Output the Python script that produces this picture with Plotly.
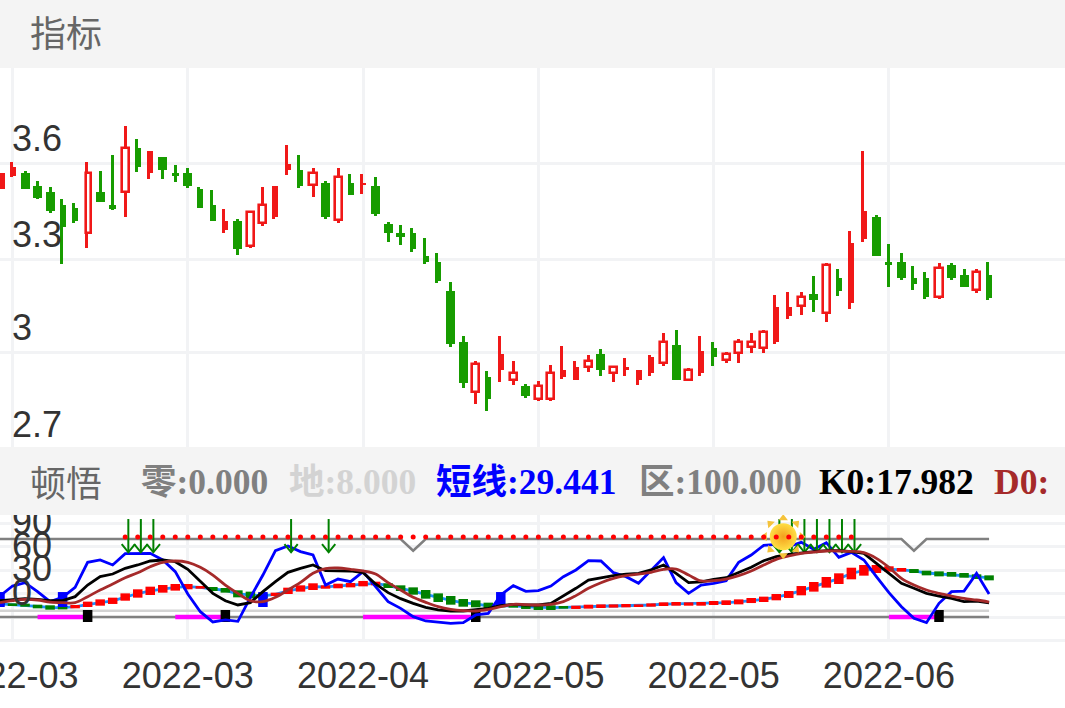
import math
import plotly.graph_objects as go

W, H = 1065, 708

# price panel, one candle per trading day
opens = [3.517,3.560,3.567,3.527,3.507,3.467,3.456,3.377,3.507,3.467,
         3.509,3.648,3.569,3.619,3.568,3.568,3.517,3.467,3.387,3.416,
         3.337,3.409,3.428,3.578,3.578,3.529,3.537,3.419,3.537,3.529,
         3.527,3.406,3.377,3.377,3.305,3.286,3.194,3.032,2.873,2.922,
         2.943,2.911,2.892,2.852,2.852,2.922,2.912,2.953,2.993,2.933,
         2.943,2.912,2.933,2.964,3.022,2.912,2.933,3.012,2.975,2.996,
         3.015,3.014,3.033,3.114,3.145,3.183,3.125,3.235,3.155,3.358,
         3.428,3.285,3.286,3.235,3.235,3.176,3.275,3.244,3.196,3.244]
closes = [3.567,3.586,3.517,3.488,3.448,3.398,3.416,3.567,3.477,3.454,
          3.647,3.588,3.638,3.578,3.558,3.527,3.457,3.417,3.416,3.327,
          3.445,3.466,3.527,3.597,3.527,3.567,3.428,3.557,3.498,3.537,
          3.438,3.377,3.366,3.326,3.286,3.225,3.024,2.903,2.962,2.852,
          2.993,2.932,2.861,2.892,2.932,2.943,2.952,2.972,2.943,2.952,
          2.952,2.943,2.983,3.032,2.912,2.942,3.002,2.983,2.993,3.032,
          3.032,3.063,3.144,3.143,3.174,3.165,3.275,3.195,3.346,3.448,
          3.306,3.276,3.235,3.216,3.175,3.266,3.235,3.205,3.255,3.171]
highs = [3.567,3.604,3.575,3.544,3.523,3.485,3.472,3.604,3.575,3.625,
         3.717,3.675,3.638,3.619,3.594,3.584,3.524,3.514,3.454,3.423,
         3.447,3.524,3.527,3.656,3.625,3.584,3.544,3.584,3.565,3.565,
         3.555,3.413,3.403,3.394,3.363,3.313,3.222,3.051,2.970,2.939,
         3.051,2.970,2.898,2.909,2.959,3.020,2.970,2.990,3.010,2.952,
         2.980,2.943,2.990,3.060,3.070,2.949,3.051,3.031,2.999,3.040,
         3.059,3.069,3.181,3.190,3.190,3.241,3.283,3.263,3.384,3.637,
         3.434,3.343,3.313,3.273,3.253,3.283,3.283,3.263,3.263,3.285]
lows = [3.517,3.557,3.517,3.486,3.440,3.279,3.410,3.329,3.477,3.451,
        3.430,3.571,3.550,3.550,3.541,3.521,3.457,3.417,3.379,3.308,
        3.329,3.400,3.421,3.561,3.521,3.491,3.421,3.410,3.498,3.501,
        3.431,3.349,3.339,3.318,3.278,3.218,3.016,2.886,2.835,2.814,
        2.905,2.895,2.854,2.844,2.844,2.914,2.912,2.936,2.925,2.905,
        2.925,2.895,2.925,2.956,2.912,2.912,2.925,2.956,2.966,2.966,
        2.996,2.996,3.025,3.106,3.117,3.127,3.096,3.178,3.137,3.350,
        3.306,3.207,3.229,3.197,3.167,3.167,3.229,3.205,3.187,3.165]
hollow_days = [7,10,20,21,25,27,38,41,43,44,47,49,53,55,58,59,60,61,64,66,75,78]
thin_days = [1,5,6,7,11,12,16,17,18,22,23,24,28,29,33,34,35,39,40,45,46,50,51,52,
             56,57,62,63,67,68,69,73,74,79]
small_days = [9,14,71]

date_days = [1,15,29,43,57,71]
date_labels = ["2022-03","2022-03","2022-04","2022-05","2022-05","2022-06"]
price_ticks = [3.6,3.295,3.0,2.69]
price_labels = ["3.6","3.3","3","2.7"]

# indicator panel
short_line = [26.9,39.7,44.0,32.5,19.7,25.2,38.0,70.1,73.1,66.7,
              81.2,81.2,81.6,73.1,58.1,29.5,6.8,-6.4,-3.8,-5.6,
              25.2,53.8,85.0,91.0,83.8,79.5,41.0,48.7,45.3,58.1,
              38.9,19.7,11.1,0.4,-5.1,-6.8,-8.1,-7.3,2.6,4.7,
              28.2,40.2,32.9,33.8,39.7,51.7,60.3,72.2,71.8,56.8,
              51.7,43.2,60.3,76.1,44.0,30.3,41.0,43.2,46.6,70.1,
              79.5,91.9,93.2,90.2,95.7,86.8,95.3,76.5,82.9,73.1,
              51.7,31.2,13.2,-1.7,-7.3,17.5,32.5,33.3,56.0,29.44]
k0_line = [20.9,22.6,23.5,22.6,20.9,20.9,26.1,41.0,51.7,55.1,
           62.4,66.7,71.8,73.1,70.9,61.1,45.3,30.3,20.9,15.4,
           18.4,32.5,45.3,57.3,62.4,66.7,59.4,59.0,59.0,56.8,
           42.3,31.2,23.5,17.5,12.4,9.0,7.7,7.7,9.0,11.1,
           14.5,16.2,15.4,15.4,17.5,26.9,36.8,47.4,50.4,53.0,
           55.1,56.0,60.3,66.7,56.0,44.0,44.9,48.3,50.4,56.8,
           63.7,72.2,77.4,80.3,82.5,83.8,85.0,85.0,83.8,81.6,
           68.8,56.0,43.2,36.8,30.3,26.9,23.9,19.7,20.5,17.98]
d0_line = [18.4,20.9,22.6,21.8,19.2,18.4,18.4,26.1,34.6,42.3,
           50.4,56.8,64.5,70.1,71.8,70.1,63.7,53.8,41.0,30.3,
           20.9,19.7,25.2,34.6,44.4,56.0,62.0,62.8,61.1,59.0,
           55.1,44.0,34.6,25.2,18.8,13.2,9.8,8.1,7.7,9.8,
           13.2,16.2,15.8,15.4,16.2,19.7,27.4,36.8,44.0,49.6,
           53.0,55.1,57.3,61.1,61.5,53.8,46.2,46.6,48.7,53.0,
           59.0,66.7,73.9,78.2,81.6,83.3,84.6,84.6,84.2,82.5,
           75.2,63.7,49.6,41.0,34.6,30.3,26.9,23.9,21.8,19.2]
slow_line = [16.7,15.8,15.2,13.5,12.2,12.0,13.2,16.2,18.5,20.7,
             25.6,30.1,33.5,36.1,38.0,38.9,38.0,35.9,34.2,29.7,
             28.2,27.1,29.0,33.5,36.5,38.9,38.5,39.7,40.8,42.7,
             43.0,40.2,37.0,33.3,29.0,24.8,21.4,18.2,16.9,14.1,
             14.5,14.5,13.0,12.2,12.0,12.4,12.4,13.2,13.8,14.1,
             14.5,14.5,15.4,16.5,16.9,16.7,16.9,18.0,18.4,19.4,
             21.1,22.6,25.5,28.9,33.8,38.7,44.5,49.2,55.8,59.9,
             61.5,61.5,60.5,59.0,56.4,55.3,54.7,53.4,51.7,50.2]
slow_top = [18.4,17.5,17.1,15.8,15.0,14.1,15.4,19.7,22.6,24.8,
            30.3,35.5,38.9,41.0,42.3,42.3,39.7,38.5,37.2,34.2,
            32.5,30.3,31.2,37.6,40.6,43.2,40.6,42.7,43.6,46.2,
            45.3,43.2,40.6,38.0,34.6,30.3,26.9,23.1,21.4,18.4,
            16.7,17.1,15.8,15.4,15.0,14.1,14.5,15.8,16.2,16.2,
            16.7,16.2,17.5,18.8,19.2,18.8,19.2,20.5,21.4,22.6,
            24.4,26.1,29.5,33.3,39.7,44.9,51.3,56.0,63.2,66.7,
            66.7,65.0,62.8,61.5,59.4,58.5,57.7,56.4,54.7,53.4]
slow_bot = [15.0,14.1,13.2,11.1,9.4,9.8,11.1,12.8,14.5,16.7,
            20.9,24.8,28.2,31.2,33.8,35.5,36.3,33.3,31.2,25.2,
            23.9,23.9,26.9,29.5,32.5,34.6,36.3,36.8,38.0,39.3,
            40.6,37.2,33.3,28.6,23.5,19.2,15.8,13.2,12.4,9.8,
            12.4,12.0,10.3,9.0,9.0,10.7,10.3,10.7,11.5,12.0,
            12.4,12.8,13.2,14.1,14.5,14.5,14.5,15.4,15.4,16.2,
            17.9,19.2,21.4,24.4,27.8,32.5,37.6,42.3,48.3,53.0,
            56.4,58.1,58.1,56.4,53.4,52.1,51.7,50.4,48.7,47.0]
slow_green_days = [0,1,2,3,4,5,17,18,19,20,21,31,32,33,34,35,36,37,38,39,40,41,42,43,44,45,
                   73,74,75,76,77,78,79]

zero_line = [0.0] * 80
earth_line = [8.0] * 80
zone_line = [85.0 if i in (33,73) else 100.0 for i in range(80)]
dot_days = list(range(10,69))
dot_value = 102.7
arrow_days = [10,11,12,23,26,62,63,64,65,66,67,68]
arrow_top, arrow_tip = 125.6, 83.0
buy_days = [0,5,21,40]
buy_low, buy_high = 12.8, 32.0
sell_days = [7,18,38,75]
sell_low, sell_high = -6.4, 9.0
pink_spans = [(3,7),(14,18),(29,38),(71,75)]
sun_day, sun_value = 62.56, 103.0

indicator_ticks = [-30,0,30,60,90,120]
indicator_labels = ["","0","30","60","90",""]

legend = [("零:0.000", "#808080", 139), ("地:8.000", "#d3d3d3", 287), ("短线:29.441", "#0000ff", 434),
          ("区:100.000", "#808080", 637), ("K0:17.982", "#000000", 817), ("D0:", "#a52a2a", 992)]

RED, GREEN = "#f01818", "#179c00"
GRID = "#f2f3f5"
days = list(range(80))
PX_PER_DAY = 12.52
INDICATOR_PX = 0.78


def pp(py):
    return 1 - py / H


def segments(idx, low, high):
    xs, ys = [], []
    for n, i in enumerate(idx):
        xs += [i, i, None]
        ys += [low[n] if isinstance(low, list) else low, high[n] if isinstance(high, list) else high, None]
    return xs, ys


fig = go.Figure()

# candles: wick bars first so the hollow bodies cover them
fig.add_trace(go.Bar(
    x=days, base=lows, y=[h - l for h, l in zip(highs, lows)],
    width=0.24, offset=[-0.24 if i in thin_days else -0.12 for i in days],
    marker=dict(color=[RED if c >= o else GREEN for o, c in zip(opens, closes)], line_width=0),
))
solid = [i for i in days if i not in hollow_days]
widths = [0.48 if i in thin_days else 0.56 if i in small_days else 0.72 for i in solid]
fig.add_trace(go.Bar(
    x=solid, base=[min(opens[i], closes[i]) for i in solid],
    y=[abs(opens[i] - closes[i]) for i in solid],
    width=widths, offset=[-w / 2 for w in widths],
    marker=dict(color=[RED if closes[i] >= opens[i] else GREEN for i in solid], line_width=0),
))
widths = [0.40 if i in thin_days else 0.56 for i in hollow_days]
fig.add_trace(go.Bar(
    x=hollow_days, base=[opens[i] for i in hollow_days],
    y=[closes[i] - opens[i] for i in hollow_days],
    width=widths, offset=[-w / 2 + (0.06 if i in thin_days else 0) for i, w in zip(hollow_days, widths)],
    marker=dict(color="#ffffff", line=dict(color=RED, width=2.6)),
))

# indicator panel, all lines and blocks on x2/y2
def add_line(x, y, color, width, **kw):
    fig.add_trace(go.Scatter(x=x, y=y, mode="lines", line=dict(color=color, width=width, **kw),
                             xaxis="x2", yaxis="y2"))


add_line(days, zone_line, "#808080", 2.5)
add_line(days, earth_line, "#d3d3d3", 2.5)
add_line(days, zero_line, "#808080", 2.5)
add_line(days, slow_line, "#1e90ff", 2.8)

green_idx = slow_green_days
red_idx = [i for i in days if i not in slow_green_days]
x, y = segments(green_idx, [slow_bot[i] for i in green_idx], [slow_top[i] for i in green_idx])
add_line(x, y, "#008000", 9.5)
x, y = segments(red_idx, [slow_bot[i] for i in red_idx], [slow_top[i] for i in red_idx])
add_line(x, y, "#ff0000", 9.5)

pink_x, pink_y = [], []
for a, b in pink_spans:
    pink_x += [a, b, None]
    pink_y += [0, 0, None]
add_line(pink_x, pink_y, "#ff00ff", 4.5)

x, y = segments(buy_days, buy_low, buy_high)
add_line(x, y, "#0000ff", 9.5)
x, y = segments(sell_days, sell_low, sell_high)
add_line(x, y, "#000000", 9.5)

add_line(days, short_line, "#0000ff", 2.8)

# down arrows, shaft plus open head
arrow_x, arrow_y = [], []
for d in arrow_days:
    c = d + 0.25
    arrow_x += [c, c, None, c - 0.53, c, c + 0.53, None]
    arrow_y += [arrow_top, arrow_tip, None, arrow_tip + 10.5, arrow_tip, arrow_tip + 10.5, None]
add_line(arrow_x, arrow_y, "#008000", 2)

add_line(days, k0_line, "#000000", 2.8)
add_line(days, d0_line, "#a52a2a", 2.8, shape="spline")

# sun sign
ray_angles = list(range(0, 360, 45))
fig.add_trace(go.Scatter(
    x=[sun_day + 18.5 * math.sin(math.radians(a)) / PX_PER_DAY for a in ray_angles],
    y=[sun_value + 18.5 * math.cos(math.radians(a)) / INDICATOR_PX for a in ray_angles],
    mode="markers", xaxis="x2", yaxis="y2",
    marker=dict(symbol="triangle-up", size=8, color="#f5c33b", angle=ray_angles, line_width=0),
))
fig.add_trace(go.Scatter(
    x=[sun_day], y=[sun_value], mode="markers", xaxis="x2", yaxis="y2",
    marker=dict(symbol="circle", size=27, color="#ffdf45", line_width=0,
                gradient=dict(type="radial", color="#f3a01e")),
))
fig.add_trace(go.Scatter(
    x=dot_days, y=[dot_value] * len(dot_days), mode="markers", xaxis="x2", yaxis="y2",
    marker=dict(symbol="circle", size=5, color="#ff0000", line_width=0),
))

axis_font = dict(family="Liberation Sans, Arial, sans-serif", size=36, color="#333333")
xrange = [0, W / PX_PER_DAY]
x_common = dict(range=xrange, tickmode="array", tickvals=date_days, ticktext=date_labels,
                showgrid=True, gridcolor=GRID, gridwidth=3, zeroline=False, showline=False,
                ticks="", tickfont=axis_font, ticklabeloverflow="allow")
y_common = dict(tickmode="array", showgrid=True, gridcolor=GRID, gridwidth=3, zeroline=False,
                showline=False, ticks="", ticklabelposition="inside", ticklabeloverflow="allow",
                ticklabelshift=-25, ticklabelstandoff=9, tickfont=axis_font)

annotations = []
for text, py in (("指标", 31.5), ("顿悟", 480.5)):
    annotations.append(dict(
        text=text, x=28 / W, y=pp(py), xref="paper", yref="paper", xanchor="left", yanchor="middle",
        showarrow=False, font=dict(family="Noto Sans CJK SC", size=36, color="#666666"),
    ))
for text, color, left in legend:
    annotations.append(dict(
        text="<b>%s</b>" % text, x=left / W, y=pp(482), xref="paper", yref="paper",
        xanchor="left", yanchor="middle", showarrow=False,
        font=dict(family="Liberation Serif, Noto Sans CJK SC", size=35.5, color=color),
    ))

fig.update_layout(
    width=W, height=H, margin=dict(l=0, r=0, t=0, b=0, autoexpand=False), showlegend=False,
    paper_bgcolor="#ffffff", plot_bgcolor="#ffffff", barmode="overlay", bargap=0,
    hovermode=False,
    xaxis=dict(anchor="y", domain=[0, 1], showticklabels=False, **x_common),
    # the panel runs on behind the second header bar
    yaxis=dict(anchor="x", domain=[pp(455), pp(68)], range=[3 - 103 / 315, 3.9016],
               tickvals=price_ticks, ticktext=price_labels, **y_common),
    xaxis2=dict(anchor="y2", domain=[0, 1], showticklabels=True, ticklabelstandoff=9, **x_common),
    yaxis2=dict(anchor="x2", domain=[pp(642), pp(515)], range=[(617 - 642) / INDICATOR_PX, (617 - 515) / INDICATOR_PX],
                tickvals=indicator_ticks, ticktext=indicator_labels, **y_common),
    shapes=[
        dict(type="rect", xref="paper", yref="paper", x0=0, x1=1, y0=pp(68), y1=pp(0),
             fillcolor="#f4f4f4", line_width=0, layer="above"),
        dict(type="rect", xref="paper", yref="paper", x0=0, x1=1, y0=pp(515), y1=pp(447),
             fillcolor="#f4f4f4", line_width=0, layer="above"),
    ],
    annotations=annotations,
)

fig.write_html("out.html", config=dict(displayModeBar=False), post_script="document.body.style.margin='0';")
